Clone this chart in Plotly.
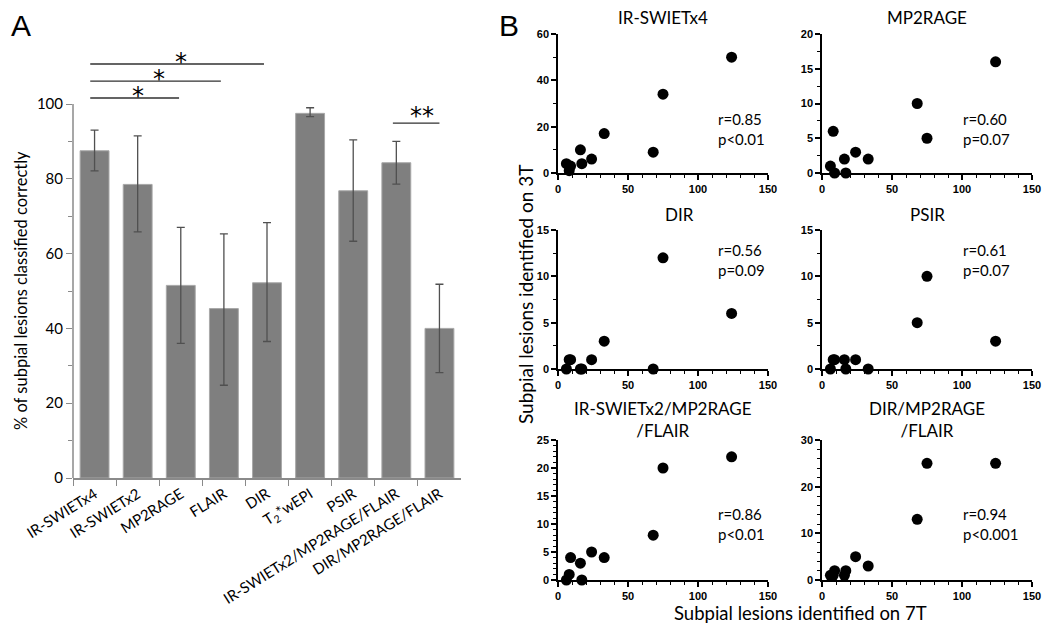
import plotly.graph_objects as go

# ---------------- Panel A data ----------------
categories = ["IR-SWIETx4", "IR-SWIETx2", "MP2RAGE", "FLAIR", "DIR",
              "T<sub>2</sub>*wEPI", "PSIR", "IR-SWIETx2/MP2RAGE/FLAIR", "DIR/MP2RAGE/FLAIR"]
pct_correct = [87.5, 78.5, 51.5, 45.3, 52.2, 97.5, 76.8, 84.3, 40.0]
err_upper = [93.0, 91.5, 67.0, 65.3, 68.3, 99.0, 90.4, 90.0, 51.8]
err_lower = [82.1, 65.8, 36.0, 24.8, 36.5, 96.6, 63.3, 78.6, 28.2]

# significance brackets: (x start, x end, y level, label)
sig_x0 = [-0.1, -0.1, -0.1, 6.92]
sig_x1 = [3.93, 2.93, 1.96, 8.0]
sig_y = [110.7, 106.1, 101.6, 94.9]
sig_label = ["*", "*", "*", "**"]
sig_label_x = [2.0, 1.5, 1.0, 7.6]

# ---------------- Panel B data ----------------
lesions_7t = [6, 8, 9, 16, 17, 24, 33, 68, 75, 124]
b_titles = ["IR-SWIETx4", "MP2RAGE", "DIR", "PSIR",
            "IR-SWIETx2/MP2RAGE<br>/FLAIR", "DIR/MP2RAGE<br>/FLAIR"]
lesions_3t = [
    [4, 1, 3, 10, 4, 6, 17, 9, 34, 50],
    [1, 6, 0, 2, 0, 3, 2, 10, 5, 16],
    [0, 1, 1, 0, 0, 1, 3, 0, 12, 6],
    [0, 1, 1, 1, 0, 1, 0, 5, 10, 3],
    [0, 1, 4, 3, 0, 5, 4, 8, 20, 22],
    [1, 1, 2, 1, 2, 5, 3, 13, 25, 25],
]
r_text = ["r=0.85", "r=0.60", "r=0.56", "r=0.61", "r=0.86", "r=0.94"]
p_text = ["p&lt;0.01", "p=0.07", "p=0.09", "p=0.07", "p&lt;0.01", "p&lt;0.001"]
y_max = [60, 20, 15, 15, 25, 30]
y_dtick = [20, 5, 5, 5, 5, 10]
y_minor = [10, 2.5, 2.5, 2.5, 1, 2]

W, H = 1050, 628
FONT = "Lato"

fig = go.Figure()

# Panel A bars
fig.add_trace(go.Bar(
    x=categories, y=pct_correct,
    marker=dict(color="#7f7f7f", line=dict(color="#a8a8a8", width=1)),
    error_y=dict(type="data", symmetric=False,
                 array=[u - v for u, v in zip(err_upper, pct_correct)],
                 arrayminus=[v - l for v, l in zip(pct_correct, err_lower)],
                 color="#505050", thickness=1.3, width=4),
    xaxis="x", yaxis="y", showlegend=False,
))

def px_x(p):
    return p / W

def px_y(p):
    return 1 - p / H

# Panel A axes
fig.update_layout(
    xaxis=dict(domain=[px_x(73), px_x(461)], anchor="y", type="category", automargin=False,
               showline=True, linecolor="#8a8a8a", linewidth=1.5,
               ticks="outside", tickson="boundaries", ticklen=6, tickcolor="#8a8a8a",
               tickangle=-32, tickfont=dict(family=FONT, size=15, color="black"),
               showgrid=False, zeroline=False),
    yaxis=dict(domain=[px_y(478), px_y(47.9)], anchor="x", range=[0, 115], automargin=False,
               showline=False, showgrid=False, zeroline=False,
               tickmode="array", tickvals=[0, 20, 40, 60, 80, 100],
               ticks="outside", ticklen=6, tickcolor="#8a8a8a", tickwidth=1.2,
               minor=dict(tickmode="array", tickvals=[10, 30, 50, 70, 90],
                          ticks="outside", ticklen=4, tickcolor="#8a8a8a"),
               tickfont=dict(family=FONT, size=15, color="black")),
)

shapes = []
annotations = []
# y axis line only up to 100
shapes.append(dict(type="line", xref="x domain", yref="y", x0=0, x1=0, y0=0, y1=100,
                   line=dict(color="#8a8a8a", width=1.5)))
for x0, x1, y, lab, lx in zip(sig_x0, sig_x1, sig_y, sig_label, sig_label_x):
    shapes.append(dict(type="line", xref="x", yref="y", x0=x0, x1=x1, y0=y, y1=y,
                       line=dict(color="#303030", width=1.3)))
    annotations.append(dict(x=lx, y=y, xref="x", yref="y", text=lab, showarrow=False,
                            xanchor="center", yanchor="bottom",
                            yshift=-14 if len(lab) == 1 else -9,
                            font=dict(family="DejaVu Sans", size=24, color="black")))

# Panel A y title
annotations.append(dict(x=px_x(21), y=px_y(291), xref="paper", yref="paper",
                        xanchor="center", yanchor="middle",
                        text="% of subpial lesions classified correctly", textangle=-90,
                        showarrow=False, font=dict(family=FONT, size=16.5, color="black")))

# Panel B subplots
x_doms = [[px_x(558), px_x(768)], [px_x(822), px_x(1032)]]
y_rows = [(34, 173), (230, 369), (440, 580)]
for i in range(6):
    row, col = divmod(i, 2)
    n = i + 2
    xa, ya = f"xaxis{n}", f"yaxis{n}"
    top, bot = y_rows[row]
    fig.add_trace(go.Scatter(
        x=lesions_7t, y=lesions_3t[i], mode="markers",
        marker=dict(color="black", size=11),
        xaxis=f"x{n}", yaxis=f"y{n}", showlegend=False, cliponaxis=False,
    ))
    tickfont = dict(family="Liberation Sans", size=11, color="black", weight="bold")
    fig.update_layout(**{
        xa: dict(domain=x_doms[col], anchor=f"y{n}", range=[0, 150], automargin=False,
                 showline=True, linecolor="black", linewidth=1.5,
                 ticks="outside", ticklen=5, tickwidth=1.5, tickcolor="black",
                 tickmode="array", tickvals=[0, 50, 100, 150],
                 minor=dict(dtick=10, tick0=0, ticks="outside", ticklen=3,
                            tickwidth=1.2, tickcolor="black"),
                 tickfont=tickfont, showgrid=False, zeroline=False),
        ya: dict(domain=[px_y(bot), px_y(top)], anchor=f"x{n}", range=[0, y_max[i]],
                 automargin=False,
                 showline=True, linecolor="black", linewidth=1.5,
                 ticks="outside", ticklen=5, tickwidth=1.5, tickcolor="black",
                 dtick=y_dtick[i], tick0=0,
                 minor=dict(dtick=y_minor[i], tick0=0, ticks="outside", ticklen=3,
                            tickwidth=1.2, tickcolor="black"),
                 tickfont=tickfont, showgrid=False, zeroline=False),
    })
    # subplot title
    title_y = top - 16 if row < 2 else top - 21
    title_x = 0.58 if i == 2 else 0.5
    annotations.append(dict(x=title_x, xref=f"x{n} domain", y=px_y(title_y), yref="paper",
                            text=b_titles[i], showarrow=False,
                            xanchor="center", yanchor="middle",
                            font=dict(family=FONT, size=17, color="black")))
    # r / p text
    rx = 0.75 if col == 0 else 0.662
    ry = [0.317, 0.784, 0.40][row]
    annotations.append(dict(x=rx, xref=f"x{n} domain", y=ry, yref=f"y{n} domain",
                            text=f"{r_text[i]}<br>{p_text[i]}", showarrow=False,
                            xanchor="left", yanchor="middle", align="left",
                            font=dict(family=FONT, size=15, color="black")))

# common axis titles for panel B
annotations.append(dict(x=px_x(525), y=px_y(295), xref="paper", yref="paper",
                        xanchor="center", yanchor="middle",
                        text="Subpial lesions identified on 3T", textangle=-90,
                        showarrow=False, font=dict(family=FONT, size=19, color="black")))
annotations.append(dict(x=px_x(800), y=px_y(613), xref="paper", yref="paper",
                        xanchor="center", yanchor="middle",
                        text="Subpial lesions identified on 7T",
                        showarrow=False, font=dict(family=FONT, size=18.5, color="black")))
# panel letters
annotations.append(dict(x=px_x(9), y=px_y(25), xref="paper", yref="paper", text="A",
                        xanchor="left", yanchor="middle", showarrow=False,
                        font=dict(family="Liberation Sans", size=30, color="black")))
annotations.append(dict(x=px_x(497), y=px_y(25), xref="paper", yref="paper", text="B",
                        xanchor="left", yanchor="middle", showarrow=False,
                        font=dict(family="Liberation Sans", size=30, color="black")))

fig.update_layout(
    width=W, height=H, margin=dict(l=0, r=0, t=0, b=0, autoexpand=False),
    paper_bgcolor="white", plot_bgcolor="white",
    bargap=0.33, shapes=shapes, annotations=annotations,
    font=dict(family=FONT, color="black"),
)

fig.write_html("out.html", config={"displayModeBar": False},
               post_script="document.body.style.margin='0';document.body.style.overflow='hidden';")
